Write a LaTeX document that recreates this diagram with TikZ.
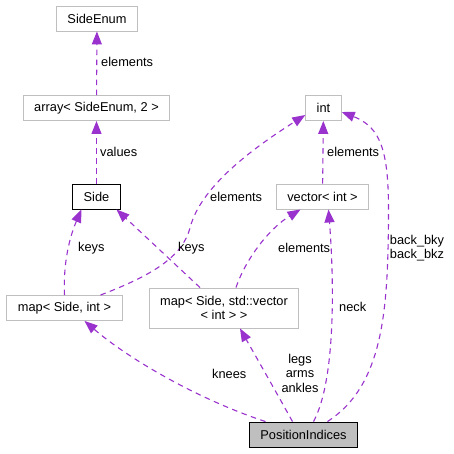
\documentclass[tikz,border=0pt]{standalone}
\usepackage{fontspec}
\setmainfont{Liberation Sans}
\usetikzlibrary{calc, arrows.meta}

\definecolor{edgepurple}{HTML}{9A32CD}
\definecolor{boxgrey}{HTML}{BFBFBF}

\tikzset{
  cls/.style={draw=boxgrey, fill=white, line width=0.9pt, inner xsep=11pt, inner ysep=4pt,
    minimum height=25pt, font=\fontsize{12.8}{14.5}\selectfont},
  rel/.style={draw=edgepurple, line width=1.1pt, dash pattern=on 5.5pt off 4.5pt,
    -{Triangle[length=13pt, width=10pt, fill=edgepurple]}},
  lbl/.style={inner sep=0pt, font=\fontsize{12.8}{14.5}\selectfont}
}

\begin{document}
\begin{tikzpicture}[x=1pt, y=-1pt]
  \useasboundingbox (0,0) rectangle (454,453);

  % classes
  \node[cls] (sideenum) at (97,18.5) {SideEnum};
  \node[cls] (array) at (96.5,108) {array< SideEnum, 2 >};
  \node[cls, draw=black] (side) at (96.5,196.5) {Side};
  \node[cls] (int) at (323.5,108) {int};
  \node[cls] (vector) at (322.5,196.5) {vector< int >};
  \node[cls] (mapint) at (64.5,308) {map< Side, int >};
  \node[cls, align=center, minimum height=40pt] (mapvec) at (224,308) {map< Side, std::vector\\< int > >};
  \node[cls, draw=black, fill=boxgrey] (pos) at (303.5,434.5) {PositionIndices};

  % straight ones
  \draw[rel] (array) -- (sideenum);
  \node[lbl, anchor=west] (l1) at (101,62) {elements};
  \draw[rel] (side) -- (array);
  \node[lbl, anchor=west] (l2) at (100,152) {values};
  \draw[rel] (vector) -- (int);
  \node[lbl, anchor=west] (l3) at (327,152) {elements};

  % maps
  \draw[rel] (mapint.north) .. controls (63,262) and (70,236) .. ($(side.south)+(-15,0)$);
  \node[lbl, anchor=west] (l4) at (78,248) {keys};
  \draw[rel] ($(mapint.north)+(36,0)$) .. controls (150,276) and (182,258) .. (190,228)
    .. controls (200,188) and (250,150) .. ($(int.west)+(0,7)$);
  \node[lbl, anchor=west] (l5) at (210,197) {elements};
  \draw[rel] ($(mapvec.north)+(-24,0)$) -- ($(side.south)+(20,0)$);
  \node[lbl, anchor=west] (l6) at (178,248) {keys};
  \draw[rel] ($(mapvec.north)+(12,0)$) .. controls (246,258) and (270,228) .. ($(vector.south)+(-22,0)$);
  \node[lbl, anchor=west] (l7) at (278,248) {elements};

  % PositionIndices members
  \draw[rel] ($(pos.north)+(-38,0)$) .. controls (200,400) and (130,360) .. ($(mapint.south)+(20,0)$);
  \node[lbl, anchor=west] (l8) at (212,374) {knees};
  \draw[rel] ($(pos.north)+(-11,0)$) .. controls (275,390) and (255,355) .. ($(mapvec.south)+(16,0)$);
  \node[lbl, align=center] (l9) at (300,373) {legs\\arms\\ankles};
  \draw[rel] ($(pos.north)+(10,0)$) .. controls (336,380) and (334,280) .. ($(vector.south)+(6,0)$);
  \node[lbl, anchor=west] (l10) at (339,307) {neck};
  \draw[rel] ($(pos.north)+(24,0)$) .. controls (376,390) and (386,330) .. (388,250)
    .. controls (390,165) and (388,130) .. ($(int.east)+(0,4)$);
  \node[lbl, align=center] (l11) at (417,248) {back\_bky\\back\_bkz};
\end{tikzpicture}
\end{document}
